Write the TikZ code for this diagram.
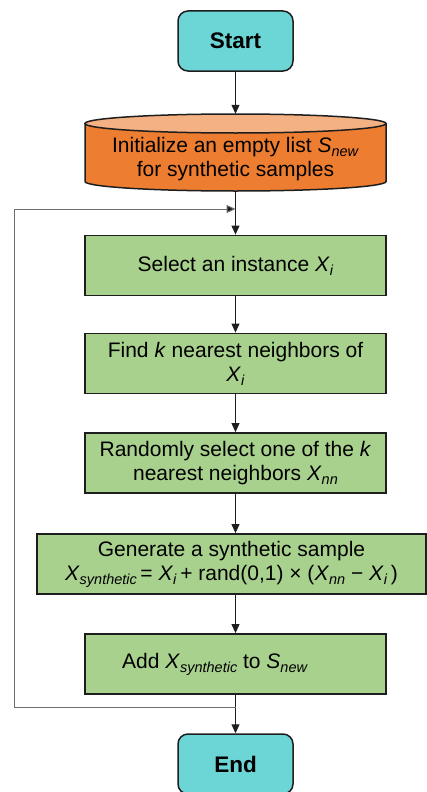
\documentclass[tikz,border=0pt]{standalone}
\usepackage{fontspec}
\setmainfont{Liberation Sans}
\usetikzlibrary{
  arrows.meta,
  positioning
}
\definecolor{termfill}{RGB}{108,214,214}
\definecolor{initfill}{RGB}{237,125,49}
\definecolor{inittop}{RGB}{244,177,131}
\definecolor{stepfill}{RGB}{169,209,142}
\definecolor{edgedark}{RGB}{30,30,30}
\definecolor{loopgray}{RGB}{110,110,110}
% italic variable with an italic subscript
\newcommand{\vsub}[2]{\textit{#1}\raisebox{-4pt}{\fontsize{14.5}{14.5}\selectfont\textit{#2}}}
\tikzset{
  termnode/.style={rectangle,rounded corners=10pt,fill=termfill,draw=edgedark,line width=1.5pt,
    minimum width=115pt,minimum height=60pt,font=\fontsize{22.5}{26}\selectfont\bfseries},
  initbox/.style={rectangle,minimum width=301pt,minimum height=77pt,inner sep=0pt},
  inittext/.style={align=center,font=\fontsize{21}{24}\selectfont},
  cylline/.style={draw=edgedark,line width=1.5pt},
  stepnode/.style={rectangle,fill=stepfill,draw=edgedark,line width=1.8pt,
    minimum width=301pt,minimum height=60pt,align=center,font=\fontsize{21}{24}\selectfont},
  arr/.style={-{Triangle[length=9pt,width=8pt]},line width=1pt,draw=edgedark},
  looparr/.style={-{Triangle[length=9pt,width=8pt,fill=edgedark]},line width=1pt,draw=loopgray}
}

\begin{document}
\begin{tikzpicture}[x=1pt,y=-1pt]
  \useasboundingbox (0,0) rectangle (427,792);

  % Start
  \node[termnode] (start) at (235.5,41) {Start};

  % Cylinder (list store)
  \fill[initfill] (85,123.5) -- (85,181.5) arc[start angle=180,end angle=0,x radius=150.5,y radius=9.5]
    -- (386,123.5) -- cycle;
  \draw[cylline] (85,123.5) -- (85,181.5) arc[start angle=180,end angle=0,x radius=150.5,y radius=9.5]
    -- (386,123.5);
  \draw[cylline,fill=inittop] (235.5,123.5) ellipse[x radius=150.5,y radius=9.5];
  \node[initbox] (init) at (235.5,152.5) {};
  \node[inittext] (initlabel) at (235.5,159) {Initialize an empty list \vsub{S}{new}\\for synthetic samples};

  % Steps
  \node[stepnode] (select) at (235.5,265.5) {Select an instance \vsub{X}{i}};
  \node[stepnode] (find) at (235.5,363.5) {Find \textit{k} nearest neighbors of\\\vsub{X}{i}};
  \node[stepnode] (pick) at (235.5,463) {Randomly select one of the \textit{k}\\nearest neighbors \vsub{X}{nn}};
  \node[stepnode,minimum width=389pt] (gen) at (231.5,564)
    {Generate a synthetic sample\\\vsub{X}{synthetic}\,= \vsub{X}{i}\,+ rand(0,1) × (\vsub{X}{nn} − \vsub{X}{i}\,)};
  \node[stepnode] (add) at (235.5,664) {Add \vsub{X}{synthetic} to \vsub{S}{new}\hspace{41pt}};

  % End
  \node[termnode] (end) at (235.5,764) {End};

  % Loop points
  \coordinate (merge) at (235.5,209);
  \coordinate (split) at (235.5,707);
  \coordinate (loopleft) at (14,209);

  % Connectors
  \draw[arr] (start) -- (init);
  \draw[arr] (init) -- (select);
  \draw[arr] (select) -- (find);
  \draw[arr] (find) -- (pick);
  \draw[arr] (pick.south) -- (pick.south |- gen.north);
  \draw[arr] (add.north |- gen.south) -- (add.north);
  \draw[arr] (add) -- (end);
  \draw[looparr] (split) -| (loopleft) -- (merge);

\end{tikzpicture}
\end{document}
